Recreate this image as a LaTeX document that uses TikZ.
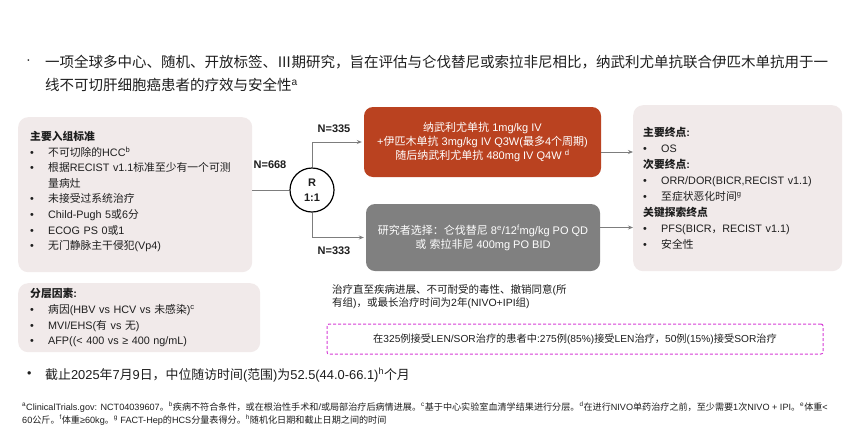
\documentclass[tikz,border=0pt]{standalone}
\usepackage{fontspec}
\setmainfont{Liberation Sans}
\newfontfamily\cjkf{Noto Sans CJK SC}
\usetikzlibrary{arrows.meta}
\XeTeXinterchartokenstate=1
\newXeTeXintercharclass\cjkcls
\newcount\cjkcnt
\def\cjkrange#1#2{\cjkcnt=#1\relax\loop\XeTeXcharclass\cjkcnt=\cjkcls\relax\advance\cjkcnt by 1\relax\ifnum\cjkcnt<#2\relax\repeat}
\cjkrange{"4E00}{"A000}
\cjkrange{"3000}{"3040}
\cjkrange{"FF00}{"FFF0}
\cjkrange{"2160}{"2170}
\XeTeXinterchartoks 0 \cjkcls = {\cjkf}
\XeTeXinterchartoks 4095 \cjkcls = {\cjkf}
\XeTeXinterchartoks \cjkcls 0 = {\rmfamily}
\XeTeXinterchartoks \cjkcls 4095 = {\rmfamily}
\definecolor{boxfill}{RGB}{241,234,234}
\definecolor{armred}{RGB}{186,66,32}
\definecolor{armgray}{RGB}{128,128,128}
\definecolor{txt}{RGB}{30,30,30}
\definecolor{dashmag}{RGB}{214,60,214}
\definecolor{connc}{RGB}{125,125,125}
\newcommand\bl{\makebox[18pt][l]{\textbullet}}
\newcommand\ind{\hspace*{18pt}}
\tikzset{
  panel/.style={fill=boxfill, rounded corners=10pt, inner xsep=12pt, inner ysep=0pt, align=left, anchor=north west, font=\fontsize{10.8}{15.7}\selectfont},
  arm/.style={rounded corners=9pt, text=white, align=center, font=\fontsize{11}{14}\selectfont, inner sep=0pt},
  conn/.style={draw=connc, line width=0.9pt},
  arr/.style={conn, -{Stealth[length=5pt,width=4pt]}},
  nlab/.style={font=\bfseries\fontsize{11}{13}\selectfont, inner sep=0pt},
  plain/.style={inner sep=0pt, align=left}
}
\begin{document}
\begin{tikzpicture}[x=1pt,y=-1pt, every node/.style={text=txt}]
\fill[white] (0,0) rectangle (864,437);
\useasboundingbox (0,0) rectangle (864,437);
% title
\node[plain, anchor=west, font=\fontsize{14.5}{18}\selectfont] (tb) at (26,62) {·};
\node[plain, anchor=north west, font=\fontsize{14.5}{23}\selectfont] (title) at (45,55) {一项全球多中心、随机、开放标签、Ⅲ期研究，旨在评估与仑伐替尼或索拉非尼相比，纳武利尤单抗联合伊匹木单抗用于一\\线不可切肝细胞癌患者的疗效与安全性\textsuperscript{a}};
% left panels
\node[panel, text width=210pt, minimum height=155pt, font=\fontsize{10.8}{15.6}\selectfont] (inc) at (18,117) {\textbf{主要入组标准}\\
\bl 不可切除的HCC\textsuperscript{b}\\
\bl 根据RECIST v1.1标准至少有一个可测\\
\ind 量病灶\\
\bl 未接受过系统治疗\\
\bl Child-Pugh 5或6分\\
\bl ECOG PS 0或1\\
\bl 无门静脉主干侵犯(Vp4)\\[-7pt]\mbox{}};
\node[panel, text width=218pt, minimum height=69pt] (strat) at (18,283) {\textbf{分层因素:}\\
\bl 病因(HBV vs HCV vs 未感染)\textsuperscript{c}\\
\bl MVI/EHS(有 vs 无)\\
\bl AFP((< 400 vs ≥ 400 ng/mL)};
% right panel
\node[panel, inner xsep=10pt, text width=189pt, minimum height=166pt, font=\fontsize{10.8}{16}\selectfont] (ep) at (633,105) {\textbf{主要终点:}\\
\bl OS\\
\textbf{次要终点:}\\
\bl ORR/DOR(BICR,RECIST v1.1)\\
\bl 至症状恶化时间\textsuperscript{g}\\
\textbf{关键探索终点}\\
\bl PFS(BICR，RECIST v1.1)\\
\bl 安全性};
% arms
\node[arm, fill=armred, minimum width=237pt, minimum height=70pt] (nivo) at (482.5,142) {纳武利尤单抗 1mg/kg IV\\+伊匹木单抗 3mg/kg IV Q3W(最多4个周期)\\随后纳武利尤单抗 480mg IV Q4W \textsuperscript{d}};
\node[arm, fill=armgray, minimum width=234pt, minimum height=67pt] (ctrl) at (483,237.5) {研究者选择：仑伐替尼 8\textsuperscript{e}/12\textsuperscript{f}mg/kg PO QD\\或 索拉非尼 400mg PO BID};
% randomisation
\node[circle, draw=black, line width=1.2pt, fill=white, minimum size=44pt, inner sep=0pt, align=center, font=\bfseries\fontsize{11}{15}\selectfont] (R) at (312,190) {R\\1:1};
\node[nlab] (n668) at (270,165) {N=668};
\node[nlab] (n335) at (334,129) {N=335};
\node[nlab] (n333) at (334,251) {N=333};
% connectors
\draw[conn] (inc.east |- R) -- (R.west);
\draw[arr] (R.north) |- ([xshift=-2pt]nivo.west);
\draw[arr] (R.south) |- ([xshift=-2pt]ctrl.west);
\draw[arr] ([yshift=-10pt]nivo.east) coordinate (o1) -- (o1 -| ep.west);
\draw[arr] ([yshift=10pt]ctrl.east) coordinate (o2) -- (o2 -| ep.west);
% treatment text
\node[plain, anchor=north west, font=\fontsize{10.5}{13.5}\selectfont] (treat) at (332,284) {治疗直至疾病进展、不可耐受的毒性、撤销同意(所\\有组)，或最长治疗时间为2年(NIVO+IPI组)};
\node[draw=dashmag, dash pattern=on 3pt off 2pt, line width=1pt, rounded corners=2pt, minimum width=496pt, minimum height=30pt, inner sep=0pt, font=\fontsize{10.2}{13}\selectfont] (note) at (575,339) {在325例接受LEN/SOR治疗的患者中:275例(85\%)接受LEN治疗，50例(15\%)接受SOR治疗};
% bottom bullet
\node[plain, anchor=west, font=\fontsize{12.5}{15}\selectfont] (bb) at (27,375) {•};
\node[plain, anchor=west, font=\fontsize{12.9}{15}\selectfont] (fu) at (45,375) {截止2025年7月9日，中位随访时间(范围)为52.5(44.0-66.1)\textsuperscript{h}个月};
% footnote
\node[plain, anchor=north west, font=\fontsize{9.1}{13}\selectfont] (fn) at (22,402) {\textsuperscript{a}ClinicalTrials.gov: NCT04039607。\textsuperscript{b}疾病不符合条件，或在根治性手术和/或局部治疗后病情进展。\textsuperscript{c}基于中心实验室血清学结果进行分层。\textsuperscript{d}在进行NIVO单药治疗之前，至少需要1次NIVO + IPI。\textsuperscript{e}体重<\\60公斤。\textsuperscript{f}体重≥60kg。\textsuperscript{g} FACT-Hep的HCS分量表得分。\textsuperscript{h}随机化日期和截止日期之间的时间};
\end{tikzpicture}
\end{document}
